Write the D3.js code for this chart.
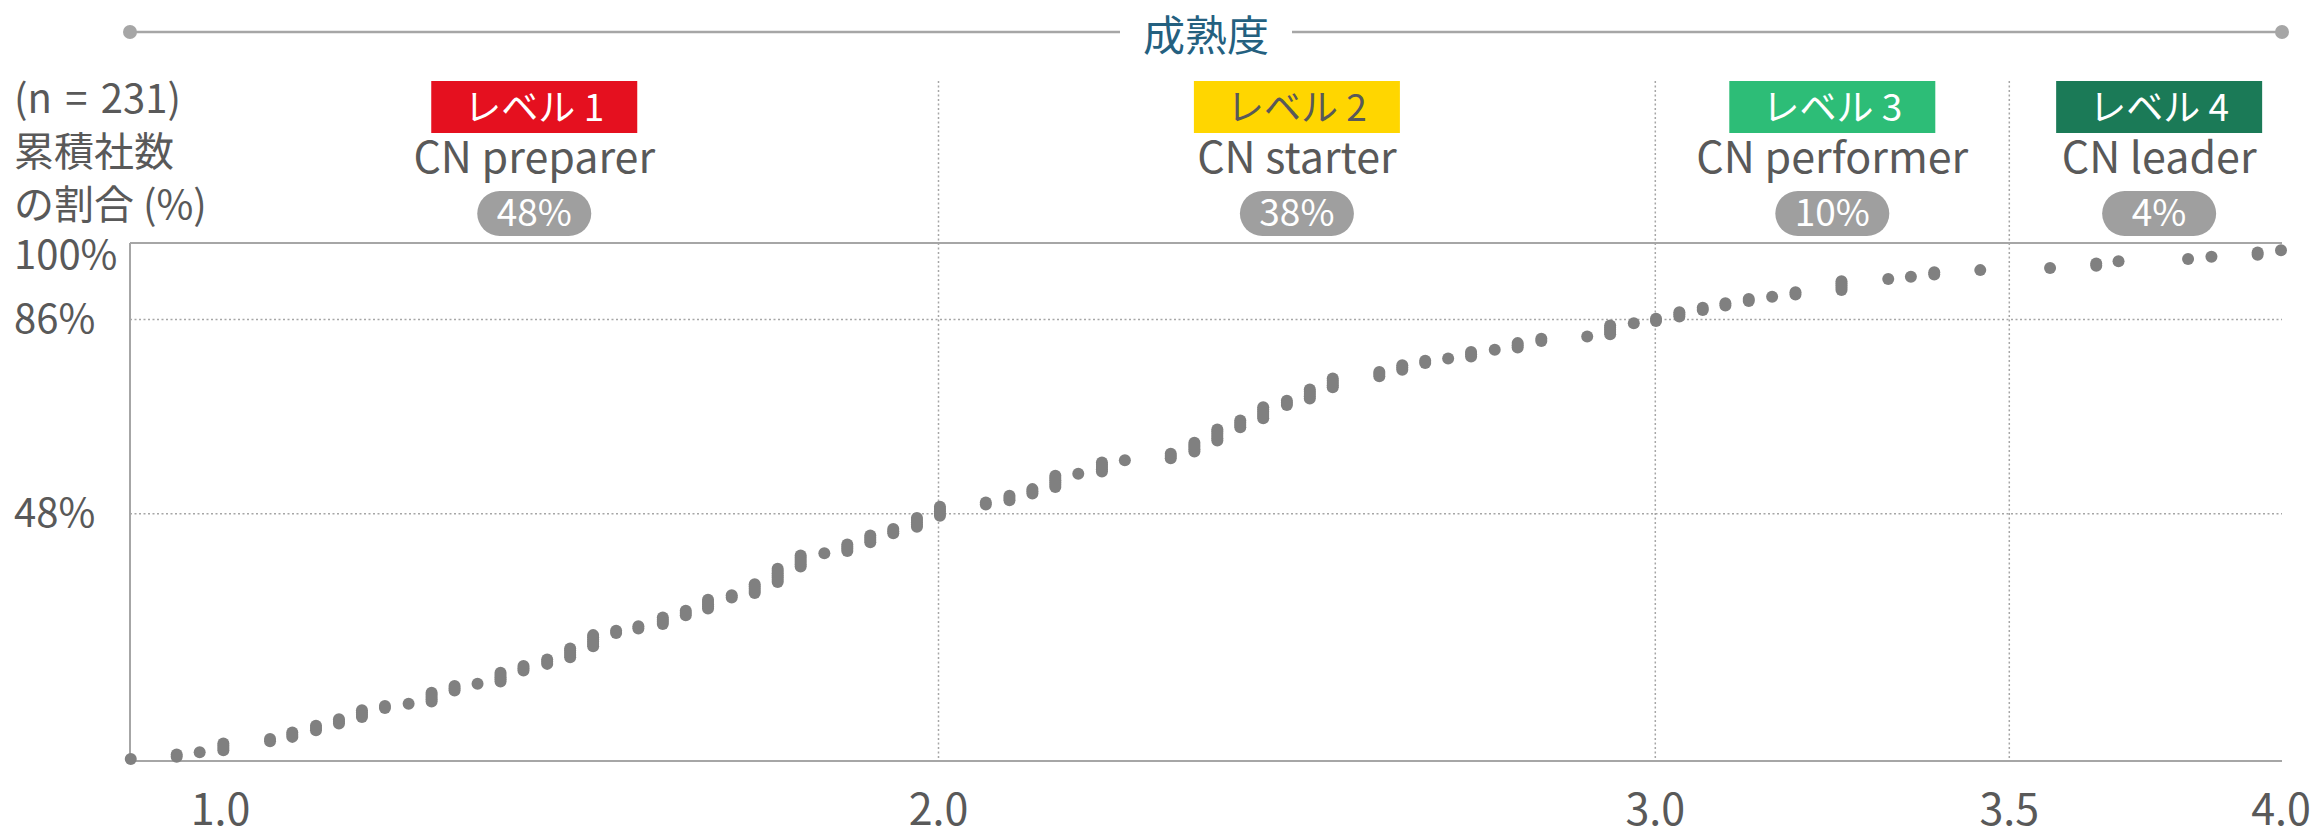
<!DOCTYPE html>
<html lang="ja">
<head>
<meta charset="utf-8">
<script src="https://cdn.jsdelivr.net/npm/d3@7/dist/d3.min.js"></script>
<style>
  html, body { margin: 0; padding: 0; background: #ffffff; }
  svg text { font-family: "Noto Sans CJK JP", "Noto Sans", sans-serif; }
</style>
</head>
<body>
<svg id="chart" width="2313" height="831"></svg>
<script>
// ---- Data ---------------------------------------------------------------
const totalCompanies = 231;

// Maturity score of each distinct score column, and how many companies share it
const scores = [
  0.875, 0.939, 0.971, 1.004, 1.069, 1.100, 1.133, 1.165, 1.197, 1.229,
  1.262, 1.294, 1.326, 1.358, 1.390, 1.422, 1.455, 1.487, 1.519, 1.551,
  1.582, 1.616, 1.648, 1.679, 1.712, 1.744, 1.776, 1.808, 1.841, 1.873,
  1.905, 1.937, 1.970, 2.002, 2.066, 2.099, 2.131, 2.163, 2.195, 2.228,
  2.260, 2.324, 2.357, 2.389, 2.421, 2.453, 2.486, 2.518, 2.550, 2.615,
  2.647, 2.679, 2.711, 2.743, 2.776, 2.808, 2.841, 2.905, 2.937, 2.970,
  3.001, 3.034, 3.067, 3.099, 3.132, 3.165, 3.198, 3.263, 3.329, 3.361,
  3.394, 3.459, 3.575, 3.660, 3.701, 3.829, 3.872, 3.957, 4.000
];
const counts = [
  1, 2, 1, 4, 2, 3, 3, 3, 4, 2,
  1, 5, 3, 1, 5, 3, 3, 5, 6, 2,
  2, 4, 3, 5, 2, 5, 7, 6, 1, 4,
  4, 3, 5, 5, 2, 3, 3, 6, 1, 5,
  1, 3, 5, 6, 4, 6, 3, 5, 5, 3,
  3, 2, 1, 3, 1, 3, 2, 1, 5, 1,
  2, 3, 2, 2, 2, 1, 2, 5, 1, 1,
  2, 1, 1, 2, 1, 1, 1, 2, 1
];

// Maturity levels
const levelNames  = ["レベル 1", "レベル 2", "レベル 3", "レベル 4"];
const levelRoles  = ["CN preparer", "CN starter", "CN performer", "CN leader"];
const levelShares = [48, 38, 10, 4];
const levelFills  = ["#e5101f", "#ffd600", "#2dbd77", "#1b7a57"];
const levelInk    = ["#ffffff", "#595959", "#ffffff", "#ffffff"];
const levelBreaks = [2.0, 3.0, 3.5];          // score boundaries between levels

// Axis labels
const xTickValues = [1.0, 2.0, 3.0, 3.5, 4.0];
const yTickValues = [48, 86, 100];
const yTitleLines = ["(n\u2004=\u2004231)", "累積社数", "の割合 (%)"];
const topTitle = "成熟度";

// ---- Layout -------------------------------------------------------------
const W = 2313, H = 831;
const plot = { left: 130, right: 2282, top: 243, bottom: 761 };
const gridGrey = "#a6a6a6";
const inkGrey = "#595959";

const svg = d3.select("#chart");

// piecewise score axis, as labelled along the bottom
const x = d3.scaleLinear()
  .domain([1.0, 2.0, 3.0, 3.5, 4.0])
  .range([220.5, 938.5, 1655.3, 2009.3, 2281]);

const y = d3.scaleLinear()
  .domain([0, 100])
  .range([plot.bottom - 2, plot.top + 5]);

// one point per company, stacked by cumulative share
const points = [];
let k = 0;
scores.forEach((s, i) => {
  for (let j = 0; j < counts[i]; j++) {
    points.push({ score: s, share: k / totalCompanies * 100 });
    k++;
  }
});

// ---- Top title bar ------------------------------------------------------
const titleY = 32;
const titleCx = (plot.left + plot.right) / 2;
const titleGap = 86;
const bar = svg.append("g");
bar.selectAll("line")
  .data([[plot.left, titleCx - titleGap], [titleCx + titleGap, plot.right]])
  .join("line")
  .attr("x1", d => d[0]).attr("x2", d => d[1])
  .attr("y1", titleY).attr("y2", titleY)
  .attr("stroke", gridGrey).attr("stroke-width", 2.5);
bar.selectAll("circle")
  .data([plot.left, plot.right])
  .join("circle")
  .attr("cx", d => d).attr("cy", titleY).attr("r", 7)
  .attr("fill", gridGrey);
bar.append("text")
  .attr("x", titleCx).attr("y", titleY)
  .attr("text-anchor", "middle").attr("dominant-baseline", "central")
  .attr("font-size", 42).attr("fill", "#24607f")
  .text(topTitle);

// ---- Grid ---------------------------------------------------------------
const grid = svg.append("g");
grid.selectAll("line.v")
  .data(levelBreaks)
  .join("line").attr("class", "v")
  .attr("x1", d => x(d)).attr("x2", d => x(d))
  .attr("y1", 81).attr("y2", plot.bottom)
  .attr("stroke", gridGrey).attr("stroke-width", 1.5)
  .attr("stroke-dasharray", "2,2.5");

const cumShares = d3.cumsum(levelShares).slice(0, 2);
grid.selectAll("line.h")
  .data(cumShares)
  .join("line").attr("class", "h")
  .attr("x1", plot.left).attr("x2", plot.right)
  .attr("y1", d => y(d)).attr("y2", d => y(d))
  .attr("stroke", gridGrey).attr("stroke-width", 1.5)
  .attr("stroke-dasharray", "2,2.5");

// frame: top, left, bottom
const frame = svg.append("g").attr("stroke", gridGrey).attr("stroke-width", 2);
frame.append("line").attr("x1", plot.left).attr("x2", plot.right).attr("y1", plot.top).attr("y2", plot.top);
frame.append("line").attr("x1", plot.left).attr("x2", plot.left).attr("y1", plot.top).attr("y2", plot.bottom);
frame.append("line").attr("x1", plot.left).attr("x2", plot.right).attr("y1", plot.bottom).attr("y2", plot.bottom);

// ---- Level headers ------------------------------------------------------
const edges = [plot.left, ...levelBreaks.map(x), W - 4];
const levels = levelNames.map((name, i) => ({
  name, role: levelRoles[i], share: levelShares[i],
  fill: levelFills[i], ink: levelInk[i],
  cx: (edges[i] + edges[i + 1]) / 2
}));

const head = svg.append("g").selectAll("g")
  .data(levels).join("g")
  .attr("transform", d => `translate(${d.cx},0)`);

head.append("rect")
  .attr("x", -103).attr("y", 81).attr("width", 206).attr("height", 52)
  .attr("fill", d => d.fill);
head.append("text")
  .attr("y", 121).attr("text-anchor", "middle")
  .attr("font-size", 37).attr("fill", d => d.ink)
  .text(d => d.name);
head.append("text")
  .attr("y", 173).attr("text-anchor", "middle")
  .attr("font-size", 43).attr("fill", inkGrey)
  .text(d => d.role);
head.append("rect")
  .attr("x", -57).attr("y", 191).attr("width", 114).attr("height", 45)
  .attr("rx", 22.5).attr("fill", "#9f9f9f");
head.append("text")
  .attr("y", 226).attr("text-anchor", "middle")
  .attr("font-size", 37).attr("fill", "#ffffff")
  .text(d => d.share + "%");

// ---- Y axis labels ------------------------------------------------------
svg.append("g").selectAll("text")
  .data(yTitleLines).join("text")
  .attr("x", 14).attr("y", (d, i) => 113 + i * 53)
  .attr("font-size", 40).attr("fill", inkGrey)
  .text(d => d);

svg.append("g").selectAll("text")
  .data(yTickValues).join("text")
  .attr("x", 14).attr("y", d => Math.max(y(d), plot.top + 13) + 13)
  .attr("font-size", 40).attr("fill", inkGrey)
  .text(d => d + "%");

// ---- X axis labels ------------------------------------------------------
svg.append("g").selectAll("text")
  .data(xTickValues).join("text")
  .attr("x", d => x(d)).attr("y", 825)
  .attr("text-anchor", "middle")
  .attr("font-size", 43).attr("fill", inkGrey)
  .text(d3.format(".1f"));

// ---- Points -------------------------------------------------------------
svg.append("g").selectAll("circle")
  .data(points).join("circle")
  .attr("cx", d => x(d.score))
  .attr("cy", d => y(d.share))
  .attr("r", 6)
  .attr("fill", "#808080");
</script>
</body>
</html>
